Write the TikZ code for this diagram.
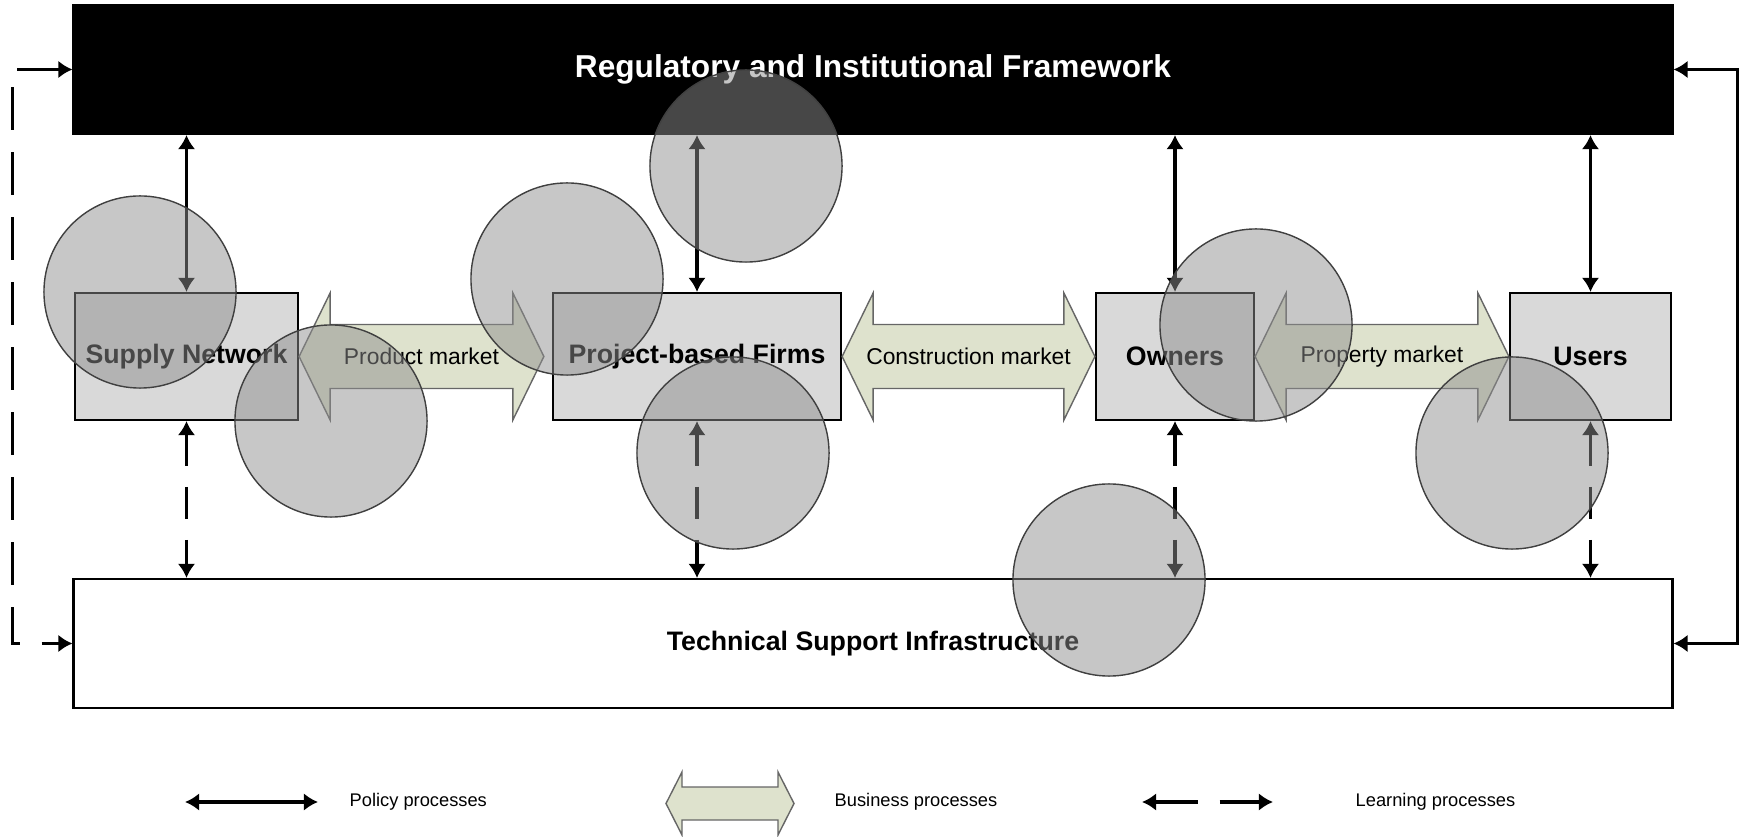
\documentclass[tikz,border=0pt]{standalone}
\usepackage{fontspec}
\setmainfont{Liberation Sans}
\usepackage{tikz}
\usetikzlibrary{arrows.meta,calc,positioning}

\definecolor{mktgreen}{RGB}{222,226,205}
\definecolor{boxgray}{RGB}{217,217,217}
\definecolor{blobgray}{RGB}{143,143,143}

% block arrow: tips #1 and #2, head length #3, head half height #4, shaft half height #5
\newcommand\mktarrow[5]{%
  \draw[mkt] (#1) -- ([shift={(#3,#4)}]#1) -- ([shift={(#3,#5)}]#1) -- ([shift={(-#3,#5)}]#2)
    -- ([shift={(-#3,#4)}]#2) -- (#2) -- ([shift={(-#3,-#4)}]#2) -- ([shift={(-#3,-#5)}]#2)
    -- ([shift={(#3,-#5)}]#1) -- ([shift={(#3,-#4)}]#1) -- cycle;}

\begin{document}
\begin{tikzpicture}[x=0.01cm, y=0.01cm,
    band/.style={draw, line width=0.6pt, minimum width=15.98cm, minimum height=1.29cm, inner sep=0pt},
    box/.style={draw, line width=0.6pt, fill=boxgray, minimum height=1.27cm, inner sep=0pt,
      font=\fontsize{7.6}{9}\selectfont\bfseries},
    policy/.style={line width=1.05pt, {Latex[length=4pt,width=5pt]}-{Latex[length=4pt,width=5pt]}},
    learning/.style={policy, dash pattern=on 4.3mm off 2.2mm},
    learnshort/.style={policy, dash pattern=on 3.2mm off 2.1mm},
    mkt/.style={draw=black!60, line width=0.4pt, fill=mktgreen},
    blob/.style={draw=black!75, line width=0.4pt, fill=blobgray, fill opacity=0.5},
    lbl/.style={font=\fontsize{6.5}{8}\selectfont},
    legend/.style={font=\fontsize{5.2}{7}\selectfont, anchor=west, inner sep=0pt}]
  \useasboundingbox (0,0) rectangle (1739,836);

  \node[band, fill=black, text=white, font=\fontsize{9}{11}\selectfont\bfseries] (reg) at (873,766.5) {Regulatory and Institutional Framework};
  \node[band, fill=white, font=\fontsize{7.6}{9}\selectfont\bfseries] (tsi) at (873,192.5) {Technical Support Infrastructure};

  \node[box, minimum width=2.23cm] (sn) at (186.5,479.5) {Supply Network};
  \node[box, minimum width=2.88cm] (pbf) at (697,479.5) {Project-based Firms};
  \node[box, minimum width=1.58cm] (own) at (1175,479.5) {Owners};
  \node[box, minimum width=1.61cm] (usr) at (1590.5,479.5) {Users};

  \coordinate (pmr) at ([xshift=-0.08cm]pbf.west);
  \mktarrow{sn.east}{pmr}{31}{63.5}{32}
  \mktarrow{pbf.east}{own.west}{31}{63.5}{32}
  \mktarrow{own.east}{usr.west}{31}{63.5}{32}
  \node[lbl] (prodmkt) at ($(sn.east)!.5!(pmr)$) {Product market};
  \node[lbl] (consmkt) at ($(pbf.east)!.5!(own.west)$) {Construction market};
  \node[lbl] (propmkt) at ($(own.east)!.5!(usr.west)$) {Property market};

  \foreach \b in {sn,pbf,own,usr}{
    \draw[policy] (\b.north) -- (\b.north |- reg.south);
    \draw[learnshort] (\b.south) -- (\b.south |- tsi.north);
  }
  \draw[policy] (reg.east) -- ++(64,0) |- (tsi.east);
  \draw[learning] (reg.west) -- ++(-60,0) |- (tsi.west);

  \coordinate (pol1) at (185,34);
  \coordinate (pol2) at (318,34);
  \draw[policy] (pol1) -- (pol2);
  \node[legend] (poltxt) at (349,34) {Policy processes};
  \coordinate (bus1) at (666,32.5);
  \coordinate (bus2) at (794,32.5);
  \mktarrow{bus1}{bus2}{16}{31.5}{16.5}
  \node[legend] (bustxt) at (834,34) {Business processes};
  \coordinate (lrn1) at (1142,34);
  \coordinate (lrn2) at (1273,34);
  \draw[learning] (lrn1) -- (lrn2);
  \node[legend] (lrntxt) at (1355,34) {Learning processes};

  \foreach \cx/\cy in {140/544, 331/415, 567/557, 746/670, 733/383, 1256/511, 1109/256, 1512/383}
    \draw[blob] (\cx,\cy) circle [radius=0.96cm];
\end{tikzpicture}
\end{document}
